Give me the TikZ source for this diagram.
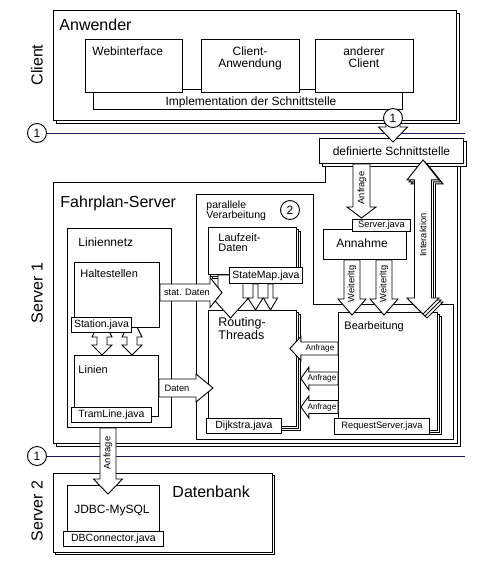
\documentclass[tikz,border=0pt]{standalone}
\usepackage{fontspec}
\setmainfont{Liberation Sans}
\usetikzlibrary{calc,shadows}

\definecolor{trennlinie}{RGB}{25,25,95}

% hohle Blockpfeile
\newcommand{\vblk}[7][]{%
  \draw[blk,#1] let \p1=(#3), \p2=(#4) in
    (#2pt-#5pt,\y1) -- (#2pt-#5pt,\y2+#7pt) -- (#2pt-#6pt,\y2+#7pt)
    -- (#2pt,\y2) -- (#2pt+#6pt,\y2+#7pt) -- (#2pt+#5pt,\y2+#7pt)
    -- (#2pt+#5pt,\y1) -- cycle;}
\newcommand{\rblk}[7][]{%
  \draw[blk,#1] let \p1=(#3), \p2=(#4) in
    (\x1,-#2pt+#5pt) -- (\x2-#7pt,-#2pt+#5pt) -- (\x2-#7pt,-#2pt+#6pt)
    -- (\x2,-#2pt) -- (\x2-#7pt,-#2pt-#6pt) -- (\x2-#7pt,-#2pt-#5pt)
    -- (\x1,-#2pt-#5pt) -- cycle;}
\newcommand{\lblk}[7][]{%
  \draw[blk,#1] let \p1=(#3), \p2=(#4) in
    (\x1,-#2pt+#5pt) -- (\x2+#7pt,-#2pt+#5pt) -- (\x2+#7pt,-#2pt+#6pt)
    -- (\x2,-#2pt) -- (\x2+#7pt,-#2pt-#6pt) -- (\x2+#7pt,-#2pt-#5pt)
    -- (\x1,-#2pt-#5pt) -- cycle;}
\newcommand{\vdblk}[8][]{%
  \draw[blk,#1] let \p1=(#3), \p2=(#4) in
    (#2pt,\y1) -- (#2pt+#6pt,\y1-#7pt) -- (#2pt+#5pt,\y1-#7pt)
    -- (#2pt+#5pt,\y2+#8pt) -- (#2pt+#6pt,\y2+#8pt) -- (#2pt,\y2)
    -- (#2pt-#6pt,\y2+#8pt) -- (#2pt-#5pt,\y2+#8pt)
    -- (#2pt-#5pt,\y1-#7pt) -- (#2pt-#6pt,\y1-#7pt) -- cycle;}

\begin{document}
\begin{tikzpicture}[x=1pt,y=-1pt,line width=0.9pt,
    box/.style={draw,fill=white,inner sep=0pt,anchor=north west},
    jl/.style={box,font=\fontsize{10.5}{12}\selectfont},
    txt/.style={inner sep=0pt},
    blk/.style={draw,fill=white},
    cnum/.style={circle,draw,fill=white,inner sep=0pt,minimum size=19pt,font=\fontsize{12}{12}\selectfont},
    stack1/.style={copy shadow={shadow xshift=#1pt,shadow yshift=-#1pt}},
    stack2/.style={copy shadow={shadow xshift=4pt,shadow yshift=-4pt},copy shadow={shadow xshift=2pt,shadow yshift=-2pt}},
    f16/.style={font=\fontsize{16}{19}\selectfont},
    f12/.style={font=\fontsize{12}{12}\selectfont},
    f11/.style={font=\fontsize{11}{11}\selectfont},
    f9/.style={font=\fontsize{9.3}{10}\selectfont},
    f8/.style={font=\fontsize{8.2}{9}\selectfont}]
  \useasboundingbox (0,0) rectangle (500,576);

  % Client
  \node[box,stack1=3,minimum width=403,minimum height=110] (anw) at (53,10) {};
  \node[txt,f16,anchor=base west] (tanw) at (59,30) {Anwender};
  \node[txt,f16,rotate=90] (tcl) at (37,65) {Client};
  \node[box,minimum width=309,minimum height=20] (impl) at (93,89) {};
  \node[txt,f12,anchor=base] (timpl) at (251,105) {Implementation der Schnittstelle};
  \node[box,minimum width=97,minimum height=53] (web) at (85,39) {};
  \node[box,minimum width=98,minimum height=53] (cla) at (201,39) {};
  \node[box,minimum width=98,minimum height=53] (andc) at (315,39) {};
  \node[txt,f12,anchor=base west] (tweb) at (92,55) {Webinterface};
  \node[txt,f12,align=center,anchor=north] (tcla) at (250,46) {Client-\\Anwendung};
  \node[txt,f12,align=center,anchor=north] (tandc) at (364,46) {anderer\\Client};

  % Trennlinien
  \node[cnum] (k1) at (37,133) {1};
  \coordinate (k1e) at (465,133);
  \draw[trennlinie] (k1) -- (k1e);
  \node[cnum] (k2) at (37,456) {1};
  \coordinate (k2e) at (465,456);
  \draw[trennlinie] (k2) -- (k2e);

  % Server 1
  \draw[fill=white,stack1=3] (53,182) -- (325,182) -- (325,163) -- (457,163) -- (457,443) -- (53,443) -- cycle;
  \node[txt,f16,anchor=base west] (tfps) at (60,207) {Fahrplan-Server};
  \node[txt,f16,rotate=90] (ts1) at (37,293) {Server 1};
  \node[box,stack1=3,minimum width=144,minimum height=25,f12] (def) at (319,138) {definierte Schnittstelle};
  \vblk{393}{anw.south}{[yshift=-4pt]def.north}{7}{14.5}{15}
  \node[cnum] (k0) at (393,118) {1};

  \draw[fill=white] (196,194) -- (313,194) -- (313,304) -- (453,304) -- (453,439) -- (196,439) -- cycle;
  \node[txt,font=\fontsize{10.5}{10}\selectfont,align=left,anchor=north west] (tpv) at (206,200) {parallele\\Verarbeitung};
  \node[cnum] (k3) at (290,210) {2};

  % Liniennetz
  \node[box,minimum width=104,minimum height=199] (lnetz) at (67,228) {};
  \node[txt,f12,anchor=base west] (tlnetz) at (78,246) {Liniennetz};
  \node[box,minimum width=84,minimum height=61] (lin) at (74,355) {};
  \node[txt,f11,anchor=base west] (tlin) at (78,373) {Linien};
  \vdblk{102}{[yshift=38pt]lin.north}{lin.north}{5}{10}{20}{10}
  \vdblk{132}{[yshift=38pt]lin.north}{lin.north}{5}{10}{20}{10}
  \node[box,minimum width=85,minimum height=65] (hs) at (74,262) {};
  \node[txt,f11,anchor=base west] (ths) at (80,277) {Haltestellen};
  \node[jl,minimum width=60,minimum height=15] (stj) at (71,317) {Station.java};
  \node[jl,minimum width=80,minimum height=15] (tlj) at (71,407) {TramLine.java};

  % parallele Verarbeitung
  \node[box,stack2,minimum width=88,minimum height=116] (rt) at (208,310) {};
  \node[txt,font=\fontsize{12.5}{11.5}\selectfont,align=left,anchor=north west] (trt) at (218,317) {Routing-\\Threads};
  \node[jl,minimum width=75,minimum height=15] (dij) at (206,418) {Dijkstra.java};
  \node[box,stack2,minimum width=88,minimum height=47] (lz) at (208,227) {};
  \node[txt,font=\fontsize{11}{10.5}\selectfont,align=left,anchor=north west] (tlz) at (218,233) {Laufzeit-\\Daten};
  \vblk{230.5}{lz.south}{[yshift=-8pt]rt.north}{12.5}{18}{20}
  \node[jl,minimum width=73,minimum height=16] (smj) at (229,267) {StateMap.java};
  \vblk{255.5}{smj.south}{rt.north}{2.5}{7.5}{12}
  \vblk{270.5}{smj.south}{rt.north}{2.5}{7}{12}
  \rblk{292.5}{hs.east}{[xshift=14pt]rt.west}{8.5}{15}{12}
  \node[txt,f9] (tsd) at (187,292.5) {stat. Daten};
  \rblk{388}{lin.east}{[xshift=5pt]rt.west}{9}{14}{17}
  \node[txt,f9] (tdat) at (177,388) {Daten};

  % Annahme und Bearbeitung
  \node[box,minimum width=83,minimum height=30] (ann) at (323,229) {};
  \node[txt,f12,anchor=base] (tann) at (362,247) {Annahme};
  \node[jl,f9,minimum width=58,minimum height=12] (sj) at (352,219) {Server.java};
  \vblk{361.5}{def.south}{[yshift=1pt]sj.north}{8.5}{14.5}{11}
  \node[txt,f9,rotate=90] (tanf0) at (362,188) {Anfrage};
  \node[box,stack2,minimum width=99,minimum height=118] (bea) at (338,312) {};
  \node[txt,f11,anchor=base west] (tbea) at (344,329) {Bearbeitung};
  \node[jl,f9,minimum width=95,minimum height=16] (rsj) at (334,418) {RequestServer.java};
  \vblk{352}{ann.south}{[yshift=-3pt]bea.north}{8}{14}{16}
  \vblk{384}{ann.south}{[yshift=-3pt]bea.north}{8}{14}{16}
  \node[txt,f9,rotate=90] (tw1) at (352,284) {Weiterltg};
  \node[txt,f9,rotate=90] (tw2) at (384,284) {Weiterltg};
  \vdblk[stack2]{423}{[yshift=4pt]def.south}{[yshift=-2pt]bea.north}{8.5}{16}{20}{16}
  \node[txt,f9,rotate=90] (tint) at (423,235) {Interaktion};
  \lblk{348.5}{bea.west}{[xshift=-7pt]rt.east}{6.5}{12}{11}
  \lblk{378.5}{bea.west}{[xshift=4pt]rt.east}{6.5}{11.5}{8}
  \lblk{407}{bea.west}{[xshift=4pt]rt.east}{6.5}{11}{8}
  \node[txt,f8] (ta1) at (320,348.5) {Anfrage};
  \node[txt,f8] (ta2) at (322,378.5) {Anfrage};
  \node[txt,f8] (ta3) at (322,407) {Anfrage};

  % Server 2
  \node[box,stack1=2,minimum width=219,minimum height=79] (db) at (53,473) {};
  \node[txt,f16,anchor=base west] (tdb) at (172,497) {Datenbank};
  \node[txt,f16,rotate=90] (ts2) at (37,511) {Server 2};
  \node[box,minimum width=92,minimum height=46] (jdbc) at (67,485) {};
  \node[txt,f12,anchor=base] (tjdbc) at (112,513) {JDBC-MySQL};
  \node[jl,minimum width=100,minimum height=15] (dbc) at (63,531) {DBConnector.java};
  \vblk{108}{lnetz.south}{[yshift=-9pt]jdbc.north}{8}{14.5}{15}
  \node[txt,f9,rotate=90] (tanf4) at (108,453) {Anfrage};
\end{tikzpicture}
\end{document}
